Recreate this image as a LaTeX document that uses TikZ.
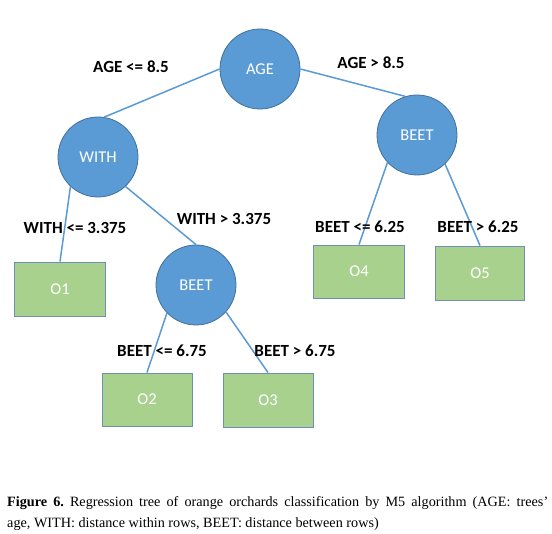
\documentclass[tikz,border=0pt]{standalone}
\usepackage{fontspec}
\setmainfont{Liberation Serif}
\newfontfamily\calibri{Carlito}
\definecolor{cblue}{HTML}{5B9BD5}
\definecolor{cbord}{HTML}{41719C}
\definecolor{bgreen}{HTML}{A9D18E}
\definecolor{bbord}{HTML}{6D8FB8}
\begin{document}
\begin{tikzpicture}[x=1pt,y=-1pt,
  split/.style={circle,fill=cblue,draw=cbord,line width=0.8pt,minimum size=80pt,inner sep=0pt,text=white,font=\calibri\fontsize{16.5}{18}\selectfont},
  leaf/.style={rectangle,fill=bgreen,draw=bbord,line width=0.9pt,minimum width=90pt,minimum height=54pt,inner sep=0pt,text=white,font=\calibri\fontsize{16.5}{18}\selectfont},
  cond/.style={inner sep=0pt,font=\calibri\bfseries\fontsize{17}{19}\selectfont},
  edge/.style={draw=cblue,line width=1.5pt}]
\useasboundingbox[fill=white] (0,0) rectangle (552,534);
% split nodes
\node[split] (age) at (260,69) {AGE};
\node[split] (with) at (98,157) {WITH};
\node[split] (beetr) at (417,135) {BEET};
\node[split] (beetl) at (196,285) {BEET};
% leaves
\node[leaf,minimum width=91pt] (o1) at (60,289) {O1};
\node[leaf,minimum height=53pt] (o2) at (147,399.5) {O2};
\node[leaf] (o3) at (268,400) {O3};
\node[leaf,minimum width=91pt,minimum height=53pt] (o4) at (359,271.5) {O4};
\node[leaf,minimum width=89pt] (o5) at (480,273) {O5};
% connectors
\draw[edge] (age.180) -- (with.81);
\draw[edge] (age.0) -- (beetr.107);
\draw[edge] (with.227) -- (o1.north);
\draw[edge] (with.313) -- (beetl.north);
\draw[edge] (beetl.224) -- (o2.north);
\draw[edge] (beetl.318) -- (o3.north);
\draw[edge] (beetr.223) -- (o4.north);
\draw[edge] (beetr.314) -- (o5.north);
% condition labels
\node[cond] (l1) at (131,67) {AGE <= 8.5};
\node[cond] (l2) at (371,63) {AGE > 8.5};
\node[cond] (l3) at (75,228) {WITH <= 3.375};
\node[cond] (l4) at (224,219) {WITH > 3.375};
\node[cond] (l5) at (360,227) {BEET <= 6.25};
\node[cond] (l6) at (478,227) {BEET > 6.25};
\node[cond] (l7) at (162,351) {BEET <= 6.75};
\node[cond] (l8) at (295,351) {BEET > 6.75};
% caption
\node[anchor=north west,inner sep=0pt,text width=541pt,align=justify,font=\frenchspacing\fontsize{14.2}{21.5}\selectfont] (cap) at (7,496)
  {\textbf{Figure 6.} Regression tree of orange orchards classification by M5 algorithm (AGE: trees’\linebreak age, WITH: distance within rows, BEET: distance between rows)};
\end{tikzpicture}
\end{document}
